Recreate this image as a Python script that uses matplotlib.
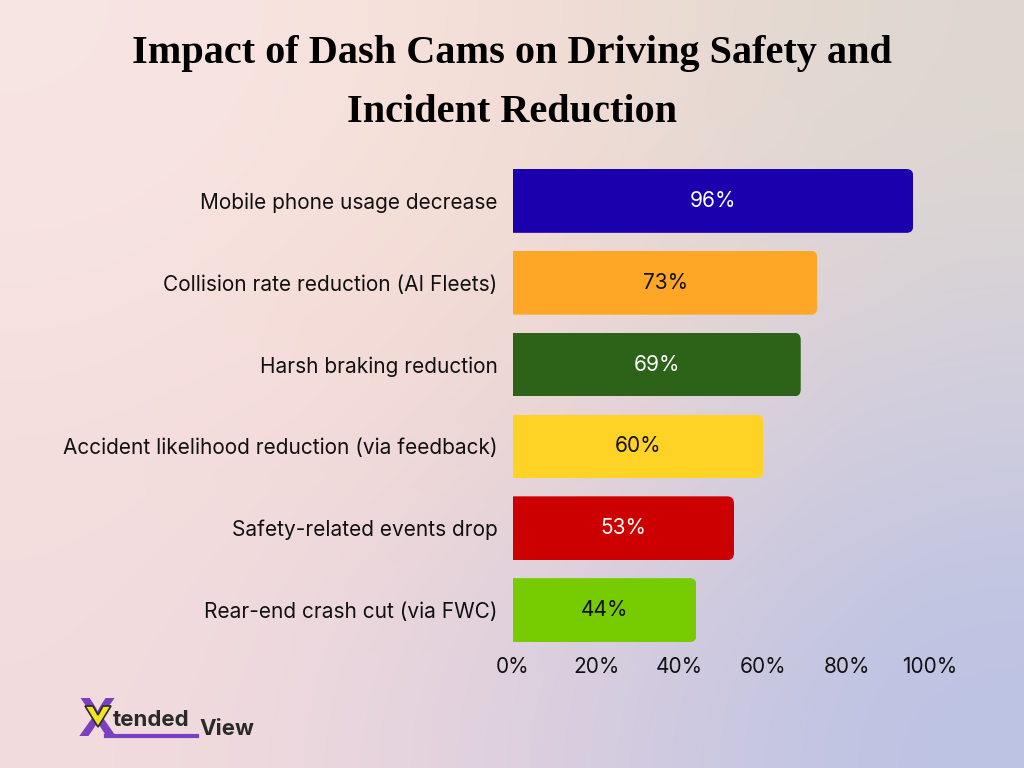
import matplotlib.pyplot as plt
import numpy as np
from matplotlib.patches import FancyBboxPatch, Polygon

# data
categories = ["Mobile phone usage decrease", "Collision rate reduction (AI Fleets)",
              "Harsh braking reduction", "Accident likelihood reduction (via feedback)",
              "Safety-related events drop", "Rear-end crash cut (via FWC)"]
values = [96, 73, 69, 60, 53, 44]
colors = ["#1b00ae", "#fea625", "#2d6319", "#fed325", "#cd0000", "#76cc00"]
label_colors = ["white", "#111111", "white", "#111111", "white", "#111111"]
ticks = [0, 20, 40, 60, 80, 100]

plt.rcParams['font.family'] = ['Inter', 'DejaVu Sans']

fig = plt.figure(figsize=(10.24, 7.68), dpi=100)

# soft gradient background
bg = fig.add_axes([0, 0, 1, 1])
grid = np.array([
    [[248, 230, 228], [246, 222, 214], [222, 216, 207]],
    [[246, 224, 222], [245, 216, 206], [210, 206, 222]],
    [[243, 220, 222], [224, 208, 222], [186, 194, 228]],
]) / 255.0
bg.imshow(grid, extent=[0, 1, 0, 1], aspect='auto', interpolation='bicubic')
bg.set_xlim(0, 1)
bg.set_ylim(0, 1)
bg.axis('off')

ax = fig.add_axes([513 / 1024, 1 - 651 / 768, 417 / 1024, 491 / 768])
ax.patch.set_alpha(0)
y = np.arange(len(categories))
bars = ax.barh(y, values, height=0.78, color=colors)
ax.set_xlim(0, 100)
ax.set_ylim(len(categories) - 0.5, -0.5)

# rounded right ends
for b in bars:
    x0, y0 = b.get_x(), b.get_y()
    w, h = b.get_width(), b.get_height()
    clip = FancyBboxPatch((x0 - 5, y0), w + 5, h,
                          boxstyle="round,pad=0,rounding_size=1.6",
                          mutation_aspect=0.055, transform=ax.transData,
                          facecolor='none', edgecolor='none')
    ax.add_patch(clip)
    b.set_clip_path(clip)

for i, v in enumerate(values):
    ax.text(v / 2, i, f"{v}%", ha='center', va='center', fontsize=15,
            color=label_colors[i])

ax.set_yticks(y)
ax.set_yticklabels(categories, fontsize=15, color='#111111')
ax.set_xticks(ticks)
ax.set_xticklabels([f"{t}%" for t in ticks], fontsize=15, color='#111111')
ax.tick_params(length=0)
ax.tick_params(axis='y', pad=11)
ax.tick_params(axis='x', pad=4)
for s in ax.spines.values():
    s.set_visible(False)

# title
fig.text(0.5, 1 - 54 / 768, "Impact of Dash Cams on Driving Safety and",
         ha='center', va='center', fontsize=29, fontweight='bold',
         family='Liberation Serif', color='black')
fig.text(0.5, 1 - 113 / 768, "Incident Reduction",
         ha='center', va='center', fontsize=29, fontweight='bold',
         family='Liberation Serif', color='black')

# logo
fig.text(78 / 1024, 1 - 722 / 768, "X", fontsize=38, fontweight='bold',
         color='#7b3fbf', va='center', ha='left')
fig.add_artist(Polygon([[85 / 1024, 1 - 706 / 768], [93 / 1024, 1 - 706 / 768],
                        [98 / 1024, 1 - 715 / 768], [103 / 1024, 1 - 706 / 768],
                        [111 / 1024, 1 - 706 / 768], [98 / 1024, 1 - 727 / 768]],
                       closed=True, transform=fig.transFigure, zorder=5,
                       facecolor='#f2e41e', edgecolor='#2a2a2a', lw=1.2))
fig.text(113 / 1024, 1 - 720 / 768, "tended", fontsize=16, fontweight='bold',
         color='#2a2a2a', va='center', ha='left')
fig.text(199 / 1024, 1 - 729 / 768, "View", fontsize=16, fontweight='bold',
         color='#2a2a2a', va='center', ha='left')
fig.add_artist(plt.Line2D([106 / 1024, 197 / 1024], [1 - 736 / 768, 1 - 736 / 768],
                          color='#7b3fbf', lw=3))

fig.savefig("out.png", dpi=100)
